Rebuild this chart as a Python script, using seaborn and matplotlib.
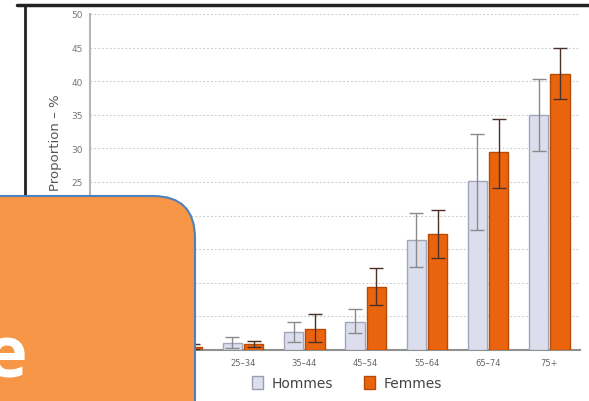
import matplotlib
matplotlib.use("Agg")
import matplotlib.pyplot as plt
from matplotlib.patches import FancyBboxPatch, Patch
from matplotlib.lines import Line2D
import numpy as np
import pandas as pd
import seaborn as sns

# Age groups and prevalence (%) with confidence bounds, by sex
age_groups = ["0–14", "15–24", "25–34", "35–44", "45–54", "55–64", "65–74", "75+"]
hommes = [0.2, 0.4, 1.0, 2.7, 4.2, 16.4, 25.1, 34.9]
hommes_low = [0.1, 0.2, 0.3, 1.2, 2.5, 12.3, 17.8, 29.6]
hommes_high = [0.4, 0.8, 1.9, 4.1, 6.1, 20.4, 32.2, 40.3]
femmes = [0.2, 0.5, 0.9, 3.1, 9.4, 17.2, 29.4, 41.0]
femmes_low = [0.1, 0.2, 0.5, 1.2, 6.7, 13.7, 24.1, 37.3]
femmes_high = [0.4, 0.9, 1.4, 5.4, 12.2, 20.9, 34.4, 45.0]
sexes = ["Hommes", "Femmes"]
y_ticks = [0, 5, 10, 15, 20, 25, 30, 35, 40, 45, 50]

df = pd.DataFrame({
    "age": age_groups * 2,
    "sexe": ["Hommes"] * len(age_groups) + ["Femmes"] * len(age_groups),
    "prop": hommes + femmes,
    "low": hommes_low + femmes_low,
    "high": hommes_high + femmes_high,
})

col_h = "#DCDEEE"
col_f = "#EA640E"
palette = {"Hommes": col_h, "Femmes": col_f}

sns.set_style("white")
plt.rcParams["font.family"] = ["DejaVu Sans"]

fig = plt.figure(figsize=(5.89, 4.02), dpi=100)
ax = fig.add_axes([90 / 589, 1 - 351 / 402, 490 / 589, 336 / 402])

sns.barplot(data=df, x="age", y="prop", hue="sexe", hue_order=sexes,
            order=age_groups, palette=palette, saturation=1, errorbar=None,
            width=0.7, gap=0.1, legend=False, ax=ax, zorder=3)

# edge colours per series and error bars on each bar centre
for container, sex in zip(ax.containers, sexes):
    sub = df[df["sexe"] == sex].set_index("age").loc[age_groups]
    for bar in container:
        bar.set_edgecolor("#A3A6B8" if sex == "Hommes" else "#B84A08")
        bar.set_linewidth(1.0)
    xs = [b.get_x() + b.get_width() / 2 for b in container]
    vals = sub["prop"].to_numpy()
    yerr = np.vstack([vals - sub["low"].to_numpy(), sub["high"].to_numpy() - vals])
    ax.errorbar(xs, vals, yerr=yerr, fmt="none",
                ecolor="#8A8A8A" if sex == "Hommes" else "#4A3228",
                elinewidth=1.0, capsize=5, capthick=1.0, zorder=4)

ax.set_ylim(0, 50)
ax.set_xlim(-0.5, len(age_groups) - 0.5)
ax.set_yticks(y_ticks)
ax.set_yticklabels([str(t) if t > 0 else "" for t in y_ticks])
ax.yaxis.grid(True, linestyle=(0, (1.5, 2)), color="#C9C9C9", linewidth=0.8, zorder=0)
ax.xaxis.grid(False)
for s in ["top", "right"]:
    ax.spines[s].set_visible(False)
ax.spines["left"].set_color("#B5B5B5")
ax.spines["left"].set_linewidth(1.5)
ax.spines["bottom"].set_color("#909090")
ax.spines["bottom"].set_linewidth(1.5)
ax.tick_params(axis="y", labelsize=6.5, labelcolor="#777777", length=2,
               color="#B5B5B5", pad=3)
ax.tick_params(axis="x", labelsize=6, labelcolor="#666666", length=0, pad=6)
ax.set_xlabel("")
ax.set_ylabel("Proportion – %", fontsize=9.5, color="#555555")
ax.yaxis.set_label_coords(-0.057, 0.62)

# legend under the plot
handles = [Patch(facecolor=col_h, edgecolor="#9A9DB0", label="Hommes"),
           Patch(facecolor=col_f, edgecolor="#B84A08", label="Femmes")]
fig.legend(handles=handles, loc="center", bbox_to_anchor=(347 / 589, 1 - 384 / 402),
           ncol=2, frameon=False, fontsize=10, handlelength=0.8, handleheight=1.1,
           handletextpad=0.6, columnspacing=2.2, labelcolor="#444444")

# page frame lines
fig.add_artist(Line2D([17 / 589, 1], [1 - 6 / 402] * 2, transform=fig.transFigure,
                      color="#222222", linewidth=2.5))
fig.add_artist(Line2D([25 / 589] * 2, [1 - 6 / 402, 1 - 200 / 402],
                      transform=fig.transFigure, color="#222222", linewidth=2))

# rounded orange callout box in the lower-left corner
box = FancyBboxPatch((-0.4, -0.4), 2.35, 2.45,
                     boxstyle="round,pad=0,rounding_size=0.42",
                     transform=fig.dpi_scale_trans, facecolor="#F79646",
                     edgecolor="#4F81BD", linewidth=1.5, zorder=10)
fig.add_artist(box)
fig.text(0.27, 0.245, "e", transform=fig.dpi_scale_trans, ha="right",
         va="baseline", fontsize=52, fontweight="bold", color="white",
         family="Open Sans", zorder=11)

fig.savefig("out.png", dpi=100)
